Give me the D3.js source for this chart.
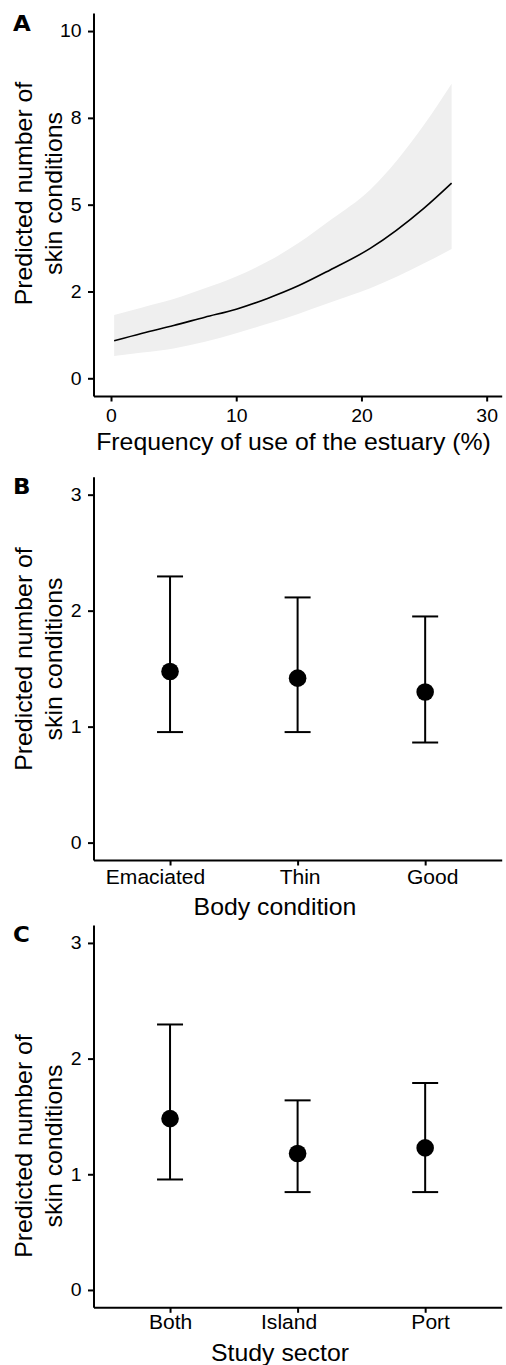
<!DOCTYPE html>
<html>
<head>
<meta charset="utf-8">
<script src="https://cdn.jsdelivr.net/npm/d3@7"></script>
<style>
  body { margin: 0; background: #fff; }
  svg { display: block; }
  text { font-family: "Liberation Sans", Arial, Helvetica, sans-serif; fill: #000; }
</style>
</head>
<body>
<div id="chart"></div>
<script>
// Panel A: predicted skin conditions vs frequency of use of the estuary
var freqX     = [0.25, 2.5, 5, 7.5, 10, 12.5, 15, 17.5, 20.7, 25, 27.2];
var freqFit   = [1.08, 1.30, 1.52, 1.76, 1.99, 2.30, 2.67, 3.12, 3.74, 4.90, 5.62];
var freqLower = [0.64, 0.74, 0.86, 1.05, 1.30, 1.57, 1.86, 2.18, 2.59, 3.31, 3.72];
var freqUpper = [1.82, 2.04, 2.28, 2.59, 2.93, 3.36, 3.90, 4.55, 5.43, 7.30, 8.48];
var freqXTicks = [0, 10, 20, 30];
var freqYTicks = [0, 2.5, 5, 7.5, 10];
var freqYLabels = ["0", "2", "5", "8", "10"];

// Panel B: body condition
var bodyCats  = ["Emaciated", "Thin", "Good"];
var bodyFit   = [1.475, 1.418, 1.298];
var bodyLower = [0.953, 0.953, 0.863];
var bodyUpper = [2.295, 2.114, 1.950];

// Panel C: study sector
var sectorCats  = ["Both", "Island", "Port"];
var sectorFit   = [1.481, 1.180, 1.228];
var sectorLower = [0.955, 0.846, 0.846];
var sectorUpper = [2.295, 1.639, 1.789];

var catYTicks = [0, 1, 2, 3];

var W = 506, H = 1365;
var SX = 1.08;   // glyphs in the figure are a little wider than Liberation Sans
var axisLeft = 93.5, axisRight = 501.7;

var svg = d3.select("#chart").append("svg")
    .attr("width", W)
    .attr("height", H);

// text with the horizontal stretch applied in its own frame
function label(g, x, y, s, size, opts) {
    opts = opts || {};
    var t = g.append("text")
        .attr("transform", "translate(" + x + "," + y + ")" +
              (opts.rotate ? " rotate(" + opts.rotate + ")" : "") +
              " scale(" + (opts.sx || SX) + ",1)")
        .attr("text-anchor", opts.anchor || "middle")
        .style("font-size", size + "px")
        .style("font-weight", opts.weight || "normal")
        .text(s);
    if (opts.family) t.style("font-family", opts.family);
    return t;
}

function styleAxis(g) {
    g.attr("font-family", null).attr("font-size", null);
    g.select(".domain").attr("stroke", "#000").attr("stroke-width", 2);
    g.selectAll(".tick line").attr("stroke", "#000").attr("stroke-width", 2);
}

function yTitle(g, cy) {
    var t = g.append("g").attr("transform", "translate(0," + cy + ") rotate(-90)");
    label(t, 0, 31.5, "Predicted number of", 23);
    label(t, 0, 61.5, "skin conditions", 23);
}

function panelLetter(g, y, s) {
    label(g, 13, y, s, 20.5, { anchor: "start", weight: "bold", sx: 1.12,
                               family: "'DejaVu Sans', sans-serif" });
}

function drawYAxis(g, y, ticks, labels) {
    var ax = g.append("g")
        .attr("transform", "translate(" + axisLeft + ",0)")
        .call(d3.axisLeft(y).tickValues(ticks).tickSize(5.5).tickSizeOuter(0).tickPadding(6.5)
              .tickFormat(function(d, i) { return labels ? labels[i] : d; }));
    styleAxis(ax);
    ax.selectAll(".tick text")
        .style("font-size", "18px")
        .attr("x", -12 / SX)
        .attr("transform", "scale(" + SX + ",1)");
    return ax;
}

// ---------- Panel A ----------
(function() {
    var g = svg.append("g");
    var top = 13, bottom = 396;
    var x = d3.scaleLinear().domain([-1.398, 31.2]).range([axisLeft, axisRight]);
    var y = d3.scaleLinear().domain([-0.51, 10.52]).range([bottom, top]);

    var rows = freqX.map(function(d, i) {
        return { x: d, fit: freqFit[i], lo: freqLower[i], hi: freqUpper[i] };
    });

    g.append("path")
        .datum(rows)
        .attr("fill", "#efefef")
        .attr("d", d3.area()
            .curve(d3.curveMonotoneX)
            .x(function(d) { return x(d.x); })
            .y0(function(d) { return y(d.lo); })
            .y1(function(d) { return y(d.hi); }));

    g.append("path")
        .datum(rows)
        .attr("fill", "none")
        .attr("stroke", "#000")
        .attr("stroke-width", 1.6)
        .attr("d", d3.line()
            .curve(d3.curveMonotoneX)
            .x(function(d) { return x(d.x); })
            .y(function(d) { return y(d.fit); }));

    drawYAxis(g, y, freqYTicks, freqYLabels);

    var ax = g.append("g")
        .attr("transform", "translate(0," + bottom + ")")
        .call(d3.axisBottom(x).tickValues(freqXTicks).tickSize(5.5).tickSizeOuter(0).tickPadding(8));
    styleAxis(ax);
    ax.selectAll(".tick text")
        .style("font-size", "18px")
        .attr("transform", "scale(" + SX + ",1)");

    label(g, 293.5, 450, "Frequency of use of the estuary (%)", 23);
    yTitle(g, 193.5);
    panelLetter(g, 31, "A");
})();

// ---------- Panels B and C ----------
function catPanel(cats, fit, lo, hi, top, bottom, xTitle, titleY, titleX, yTitleC, letter, letterY, nudges, catPad) {
    var g = svg.append("g");
    var x = d3.scalePoint().domain(cats).range([axisLeft, axisRight]).padding(0.6);
    var y = d3.scaleLinear().domain([-0.15, 3.155]).range([bottom, top]);

    var rows = cats.map(function(c, i) {
        return { cat: c, fit: fit[i], lo: lo[i], hi: hi[i] };
    });

    var bars = g.selectAll("g.bar").data(rows).enter().append("g").attr("class", "bar");
    bars.append("line")
        .attr("x1", function(d) { return x(d.cat); })
        .attr("x2", function(d) { return x(d.cat); })
        .attr("y1", function(d) { return y(d.lo); })
        .attr("y2", function(d) { return y(d.hi); });
    bars.append("line")
        .attr("x1", function(d) { return x(d.cat) - 13; })
        .attr("x2", function(d) { return x(d.cat) + 13; })
        .attr("y1", function(d) { return y(d.hi); })
        .attr("y2", function(d) { return y(d.hi); });
    bars.append("line")
        .attr("x1", function(d) { return x(d.cat) - 13; })
        .attr("x2", function(d) { return x(d.cat) + 13; })
        .attr("y1", function(d) { return y(d.lo); })
        .attr("y2", function(d) { return y(d.lo); });
    bars.selectAll("line").attr("stroke", "#000").attr("stroke-width", 2);
    bars.append("circle")
        .attr("cx", function(d) { return x(d.cat); })
        .attr("cy", function(d) { return y(d.fit); })
        .attr("r", 8.8)
        .attr("fill", "#000");

    drawYAxis(g, y, catYTicks, null);

    var ax = g.append("g")
        .attr("transform", "translate(0," + bottom + ")")
        .call(d3.axisBottom(x).tickSize(5.5).tickSizeOuter(0).tickPadding(catPad));
    styleAxis(ax);
    ax.selectAll(".tick text")
        .style("font-size", "19.5px")
        .attr("x", function(d, i) { return nudges[i] / SX; })
        .attr("transform", "scale(" + SX + ",1)");

    label(g, titleX, titleY, xTitle, 23);
    yTitle(g, yTitleC);
    panelLetter(g, letterY, letter);
}

catPanel(bodyCats, bodyFit, bodyLower, bodyUpper, 476.7, 860,
         "Body condition", 915, 275, 659, "B", 493.5, [-15, 2, 7], 4.5);
catPanel(sectorCats, sectorFit, sectorLower, sectorUpper, 925, 1307.3,
         "Study sector", 1361, 280, 1146, "C", 942, [0, -9, 5], 2.5);
</script>
</body>
</html>
